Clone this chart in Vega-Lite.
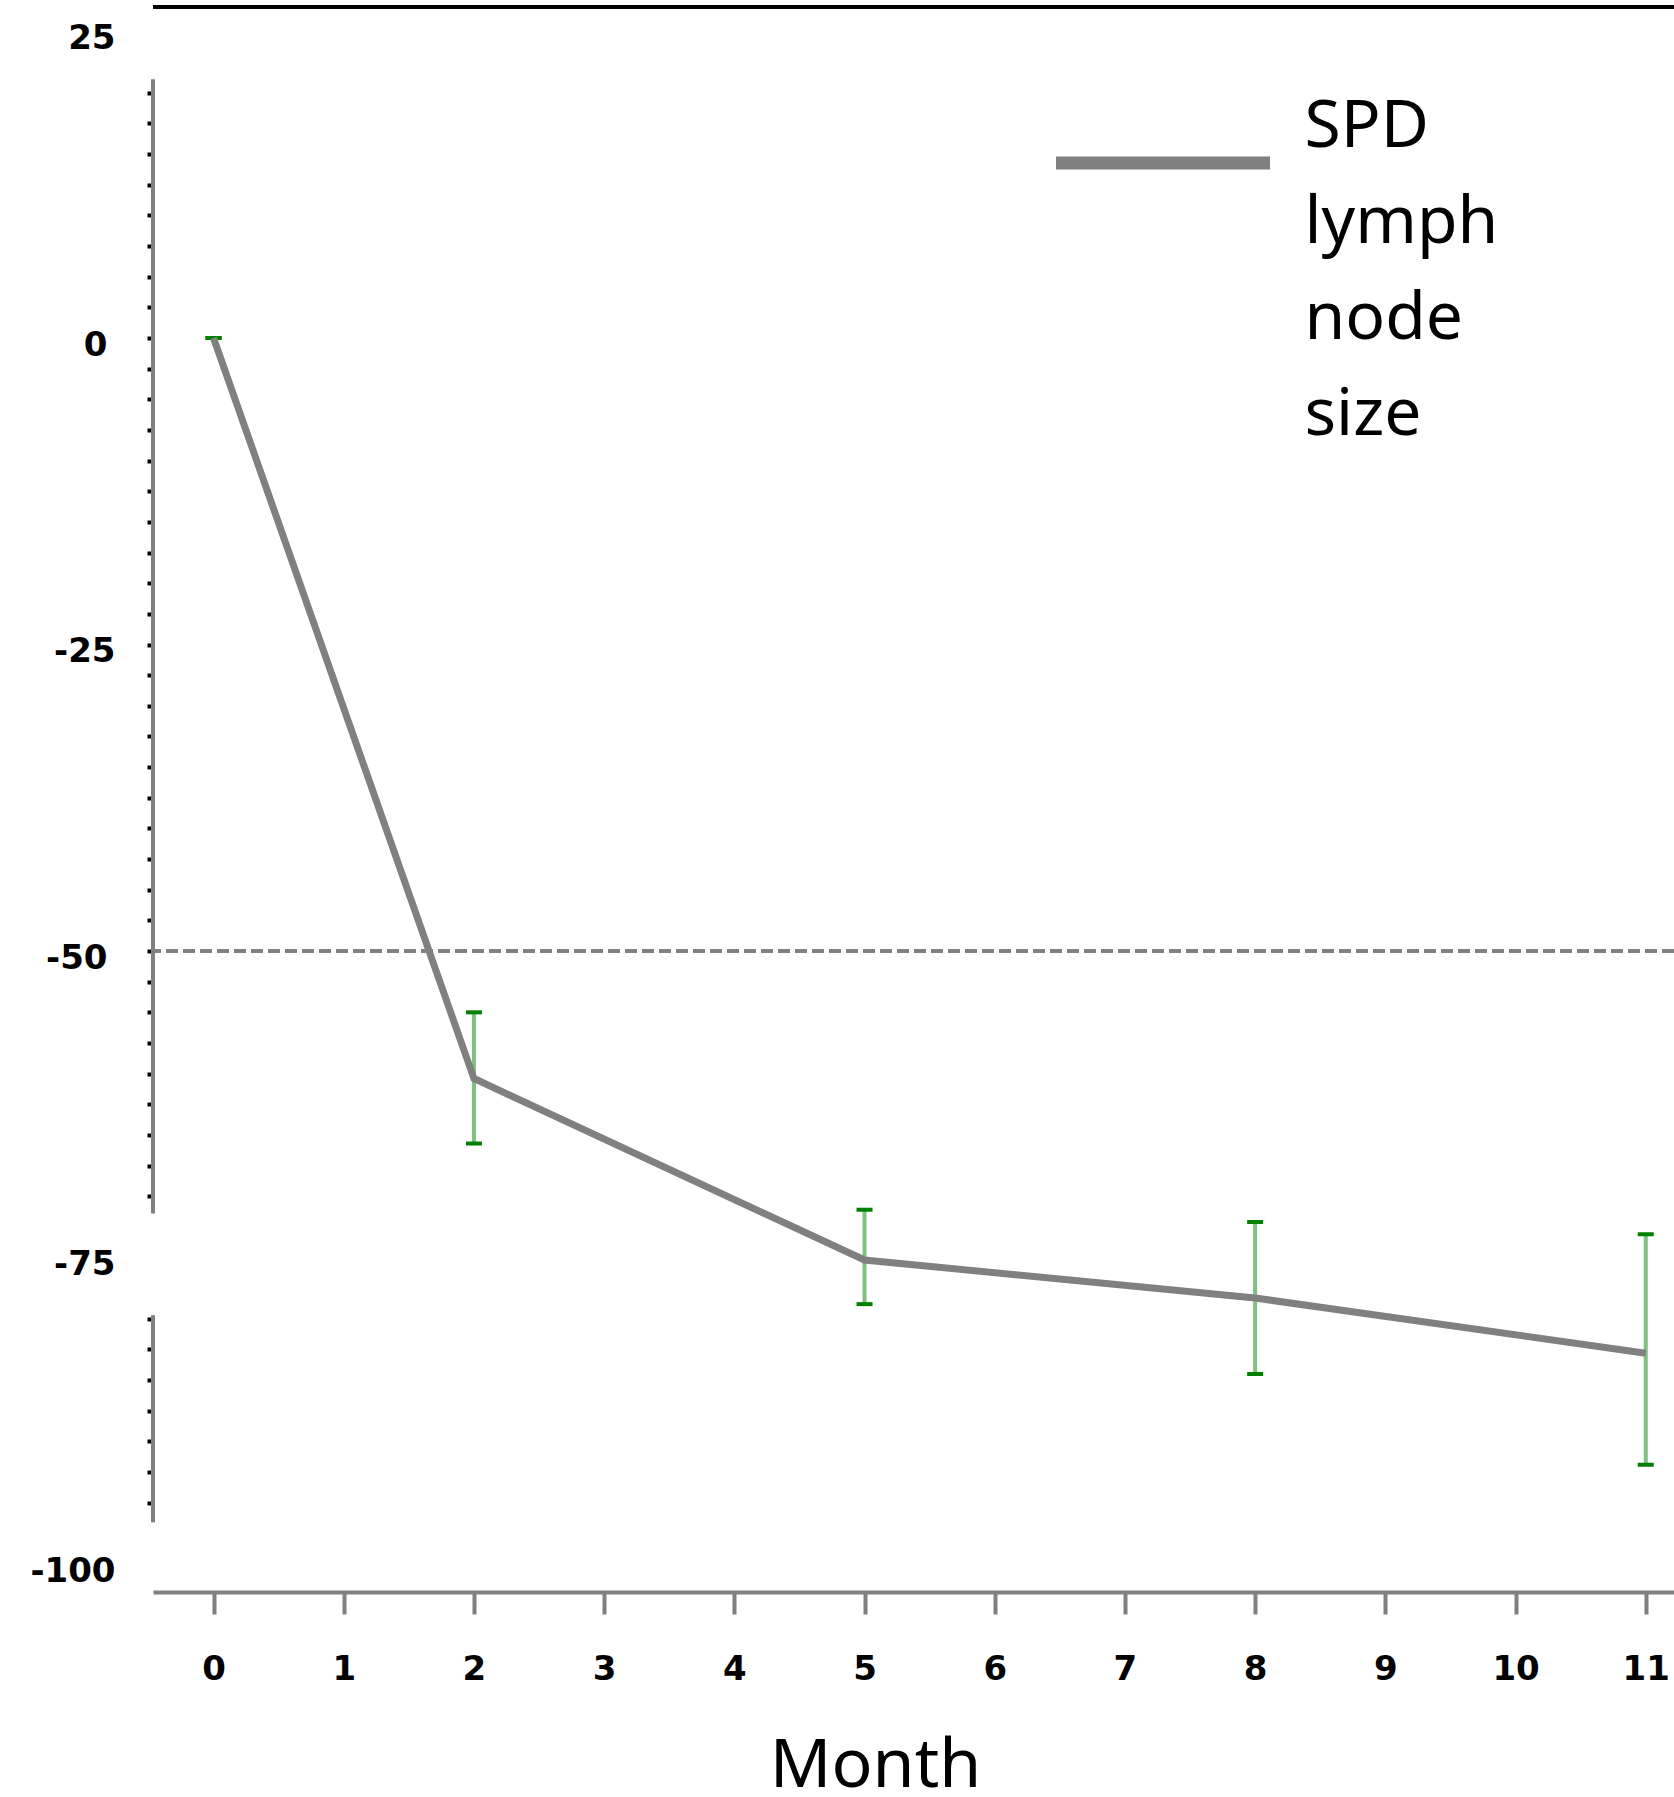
{
  "$schema": "https://vega.github.io/schema/vega-lite/v6.json",
  "autosize": {"type": "none"},
  "padding": {"left": 153, "top": 7, "right": 0, "bottom": 205},
  "width": 1521,
  "height": 1585,
  "background": "white",
  "config": {"view": {"stroke": null}},
  "datasets": {
    "spd": [
      {"month": 0, "value": 0, "lo": 0, "hi": 0, "series": "SPD lymph node size"},
      {"month": 2, "value": -60.4, "lo": -65.7, "hi": -55.0, "series": "SPD lymph node size"},
      {"month": 5, "value": -75.2, "lo": -78.8, "hi": -71.1, "series": "SPD lymph node size"},
      {"month": 8, "value": -78.3, "lo": -84.5, "hi": -72.1, "series": "SPD lymph node size"},
      {"month": 11, "value": -82.8, "lo": -91.9, "hi": -73.1, "series": "SPD lymph node size"}
    ],
    "axisSegments": [
      {"from": 21.1, "to": -71.4},
      {"from": -79.7, "to": -96.6}
    ]
  },
  "layer": [
    {
      "data": {"name": "spd"},
      "mark": {"type": "rule", "color": "black", "strokeWidth": 4},
      "encoding": {
        "y": {"datum": 27, "type": "quantitative", "title": null, "scale": {"domain": [-102.28, 27.0], "nice": false, "zero": false}}
      }
    },
    {
      "data": {"name": "spd"},
      "mark": {"type": "rule", "color": "#808080", "strokeWidth": 3, "strokeDash": [12, 5]},
      "encoding": {
        "y": {"datum": -50, "type": "quantitative", "title": null}
      }
    },
    {
      "data": {"name": "axisSegments"},
      "mark": {"type": "rule", "color": "#808080", "strokeWidth": 4},
      "encoding": {
        "x": {"datum": -0.465, "type": "quantitative", "title": "Month", "scale": {"domain": [-0.465, 11.217], "nice": false, "zero": false}},
        "y": {"field": "from", "type": "quantitative", "title": null},
        "y2": {"field": "to"}
      }
    },
    {
      "data": {"name": "spd"},
      "mark": {"type": "rule", "color": "#80c080", "strokeWidth": 4},
      "encoding": {
        "x": {"field": "month", "type": "quantitative", "title": "Month"},
        "y": {"field": "lo", "type": "quantitative", "title": null},
        "y2": {"field": "hi"}
      }
    },
    {
      "data": {"name": "spd"},
      "mark": {"type": "tick", "orient": "horizontal", "color": "#008000", "size": 16, "thickness": 4, "opacity": 1},
      "encoding": {
        "x": {"field": "month", "type": "quantitative", "title": "Month"},
        "y": {"field": "lo", "type": "quantitative", "title": null}
      }
    },
    {
      "data": {"name": "spd"},
      "mark": {"type": "tick", "orient": "horizontal", "color": "#008000", "size": 16, "thickness": 4, "opacity": 1},
      "encoding": {
        "x": {"field": "month", "type": "quantitative", "title": "Month"},
        "y": {"field": "hi", "type": "quantitative", "title": null}
      }
    },
    {
      "data": {"name": "spd"},
      "mark": {"type": "line", "strokeWidth": 7},
      "encoding": {
        "x": {
          "field": "month",
          "type": "quantitative",
          "title": "Month",
          "axis": {
            "title": "Month",
            "values": [0, 1, 2, 3, 4, 5, 6, 7, 8, 9, 10, 11],
            "tickCount": 100,
            "format": "d",
            "grid": false,
            "domainColor": "#808080",
            "domainWidth": 4,
            "tickColor": "#808080",
            "tickWidth": 4,
            "tickSize": 22,
            "labelFont": "DejaVu Sans",
            "labelFontWeight": "bold",
            "labelFontSize": 34,
            "labelColor": "black",
            "labelPadding": 38,
            "labelFlush": false,
            "labelBound": false,
            "labelOverlap": false,
            "titleFont": "Noto Sans",
            "titleFontSize": 68,
            "titleFontWeight": "normal",
            "titleColor": "black",
            "titleX": 722,
            "titleY": 194,
            "titleAlign": "center",
            "titleBaseline": "alphabetic"
          }
        },
        "y": {
          "field": "value",
          "type": "quantitative",
          "title": null,
          "axis": {
            "title": null,
            "values": [25, 20, 17.5, 15, 12.5, 10, 7.5, 5, 2.5, 0, -2.5, -5, -7.5, -10, -12.5, -15, -17.5, -20, -22.5, -25, -27.5, -30, -32.5, -35, -37.5, -40, -42.5, -45, -47.5, -50, -52.5, -55, -57.5, -60, -62.5, -65, -67.5, -70, -75, -80, -82.5, -85, -87.5, -90, -92.5, -95, -100],
            "tickCount": 200,
            "domain": false,
            "grid": false,
            "tickColor": "black",
            "tickSize": 6,
            "tickWidth": 4,
            "tickOpacity": {"condition": {"test": "datum.value == 25 || datum.value == -75 || datum.value == -100", "value": 0}, "value": 1},
            "labelExpr": "datum.value % 25 == 0 ? toString(datum.value) : ''",
            "labelFont": "DejaVu Sans",
            "labelFontWeight": "bold",
            "labelFontSize": 34,
            "labelColor": "black",
            "labelPadding": {"condition": {"test": "datum.value == 0 || datum.value == -50", "value": 40}, "value": 32},
            "labelOffset": 7,
            "labelOverlap": false,
            "labelBound": false,
            "labelFlush": false
          }
        },
        "color": {
          "field": "series",
          "type": "nominal",
          "scale": {"range": ["#808080"]},
          "legend": {
            "orient": "none",
            "legendX": 896.5,
            "legendY": -25.5,
            "title": null,
            "padding": 0,
            "symbolType": "M-1,0.636L1,0.636",
            "symbolSize": 45796,
            "symbolStrokeWidth": 13,
            "symbolStrokeColor": "#808080",
            "symbolFillColor": "transparent",
            "labelExpr": "['SPD','lymph','node','size']",
            "labelFont": "Noto Sans",
            "labelFontSize": 66,
            "labelColor": "black",
            "labelBaseline": "top",
            "labelOffset": 28,
            "labelLimit": 0,
            "encode": {"labels": {"update": {"lineHeight": {"value": 96}}}}
          }
        }
      }
    }
  ]
}
